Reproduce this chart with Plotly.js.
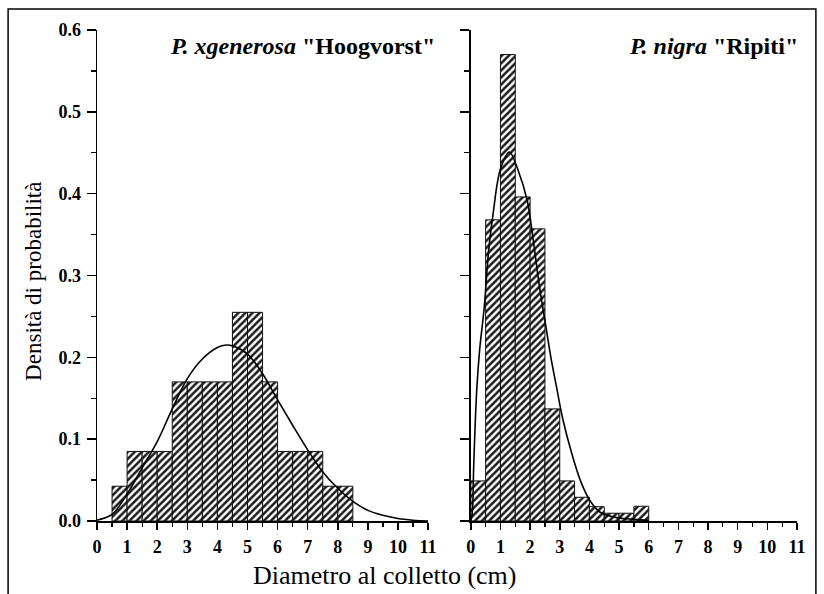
<!DOCTYPE html>
<html>
<head>
<meta charset="utf-8">
<script src="https://cdn.plot.ly/plotly-3.0.1.min.js"></script>
<style>html,body{margin:0;padding:0;background:#fff;}#chart{width:824px;height:594px;}</style>
</head>
<body>
<div id="chart"></div>
<script>
// Left panel: P. xgenerosa "Hoogvorst" (bin width 0.5 cm)
var leftBins = [0.75, 1.25, 1.75, 2.25, 2.75, 3.25, 3.75, 4.25, 4.75, 5.25, 5.75, 6.25, 6.75, 7.25, 7.75, 8.25];
var leftDensity = [0.0425, 0.085, 0.085, 0.085, 0.17, 0.17, 0.17, 0.17, 0.255, 0.255, 0.17, 0.085, 0.085, 0.085, 0.0425, 0.0425];
var leftCurveX = [0, 0.5, 1.0, 1.5, 2.0, 2.5, 3.0, 3.5, 4.0, 4.3, 4.5, 5.0, 5.5, 6.0, 6.5, 7.0, 7.5, 8.0, 8.5, 9.0, 9.5, 10.0, 10.5, 11.0];
var leftCurveY = [0.001, 0.008, 0.033, 0.065, 0.097, 0.137, 0.174, 0.198, 0.212, 0.215, 0.214, 0.204, 0.180, 0.148, 0.117, 0.087, 0.060, 0.040, 0.024, 0.013, 0.007, 0.003, 0.001, 0.0];

// Right panel: P. nigra "Ripiti"
var rightBins = [0.25, 0.75, 1.25, 1.75, 2.25, 2.75, 3.25, 3.75, 4.25, 4.75, 5.25, 5.75];
var rightDensity = [0.049, 0.368, 0.570, 0.396, 0.357, 0.137, 0.049, 0.029, 0.0175, 0.0095, 0.0095, 0.018];
var rightCurveX = [0.0, 0.05, 0.1, 0.2, 0.3, 0.45, 0.6, 0.75, 1.0, 1.3, 1.6, 1.9, 2.1, 2.3, 2.5, 2.7, 2.9, 3.1, 3.4, 3.7, 4.0, 4.35, 4.8, 5.5, 6.0];
var rightCurveY = [0.0, 0.01, 0.07, 0.16, 0.21, 0.26, 0.33, 0.375, 0.43, 0.451, 0.428, 0.392, 0.345, 0.29, 0.245, 0.2, 0.162, 0.125, 0.083, 0.049, 0.026, 0.011, 0.005, 0.002, 0.001];

var xTicks = [0,1,2,3,4,5,6,7,8,9,10,11];
var yTicks = [0.0, 0.1, 0.2, 0.3, 0.4, 0.5, 0.6];

var serif = "Liberation Serif, Times New Roman, serif";
var barMarker = {
  color: '#ffffff',
  line: {color: '#111', width: 1},
  pattern: {shape: '/', fgcolor: '#1a1a1a', bgcolor: '#ffffff', size: 5, solidity: 0.5}
};

var traces = [
  {type: 'bar', x: leftBins, y: leftDensity, width: 0.5, marker: barMarker, xaxis: 'x', yaxis: 'y', hoverinfo: 'skip'},
  {type: 'scatter', mode: 'lines', x: leftCurveX, y: leftCurveY, line: {color: '#000', width: 1.6, shape: 'spline', smoothing: 1}, xaxis: 'x', yaxis: 'y'},
  {type: 'bar', x: rightBins, y: rightDensity, width: 0.5, marker: barMarker, xaxis: 'x2', yaxis: 'y2', hoverinfo: 'skip'},
  {type: 'scatter', mode: 'lines', x: rightCurveX, y: rightCurveY, line: {color: '#000', width: 1.6, shape: 'spline', smoothing: 1}, xaxis: 'x2', yaxis: 'y2'}
];

function xAxis(domain, anchor) {
  return {
    domain: domain, anchor: anchor, range: [0, 11], autorange: false,
    tickmode: 'array', tickvals: xTicks, ticktext: xTicks.map(String),
    ticks: 'outside', ticklen: 7, tickwidth: 1.5, tickcolor: '#000',
    minor: {dtick: 0.5, tick0: 0, ticks: 'outside', ticklen: 4, tickwidth: 1.2, tickcolor: '#000'},
    showline: true, linecolor: '#000', linewidth: 1.5,
    showgrid: false, zeroline: false,
    tickfont: {family: serif, size: 18, color: '#000', weight: 'bold'},
    ticklabelstandoff: 2
  };
}
function yAxis(anchor, labels) {
  return {
    domain: [0, 1], anchor: anchor, range: [0, 0.6], autorange: false,
    tickmode: 'array', tickvals: yTicks, ticktext: yTicks.map(function(v){return v.toFixed(1);}),
    showticklabels: labels,
    ticks: 'outside', ticklen: 9, tickwidth: 1.5, tickcolor: '#000',
    minor: {dtick: 0.05, tick0: 0, ticks: 'outside', ticklen: 5, tickwidth: 1.2, tickcolor: '#000'},
    showline: true, linecolor: '#000', linewidth: 1.5,
    showgrid: false, zeroline: false,
    tickfont: {family: serif, size: 18, color: '#000', weight: 'bold'},
    ticklabelstandoff: 2
  };
}

var layout = {
  width: 824, height: 594,
  margin: {l: 97, r: 27, t: 30, b: 73},
  paper_bgcolor: '#fff', plot_bgcolor: '#fff',
  showlegend: false,
  bargap: 0,
  xaxis: xAxis([0, 0.473], 'y'),
  xaxis2: xAxis([0.534, 1], 'y2'),
  yaxis: yAxis('x', true),
  yaxis2: yAxis('x2', false),
  annotations: [
    {xref: 'paper', yref: 'paper', x: 0.485, y: 0.967, xanchor: 'right', yanchor: 'middle', showarrow: false,
     text: '<i>P. xgenerosa</i> "Hoogvorst"', font: {family: serif, size: 24, color: '#000', weight: 'bold'}},
    {xref: 'paper', yref: 'paper', x: 1.005, y: 0.967, xanchor: 'right', yanchor: 'middle', showarrow: false,
     text: '<i>P. nigra</i> "Ripiti"', font: {family: serif, size: 24, color: '#000', weight: 'bold'}},
    {xref: 'paper', yref: 'paper', x: 0.411, y: -0.112, xanchor: 'center', yanchor: 'middle', showarrow: false,
     text: 'Diametro al colletto (cm)', font: {family: serif, size: 26, color: '#000'}},
    {xref: 'paper', yref: 'paper', x: -0.09, y: 0.487, xanchor: 'center', yanchor: 'middle', showarrow: false, textangle: -90,
     text: 'Densità di probabilità', font: {family: serif, size: 23, color: '#000'}}
  ],
  shapes: [
    {type: 'rect', xref: 'paper', yref: 'paper', x0: -0.127, x1: 1.027, y0: -0.17, y1: 1.0428,
     line: {color: '#000', width: 1.5}, fillcolor: 'rgba(0,0,0,0)', layer: 'below'}
  ]
};

Plotly.newPlot('chart', traces, layout, {staticPlot: true, displayModeBar: false});
</script>
</body>
</html>
